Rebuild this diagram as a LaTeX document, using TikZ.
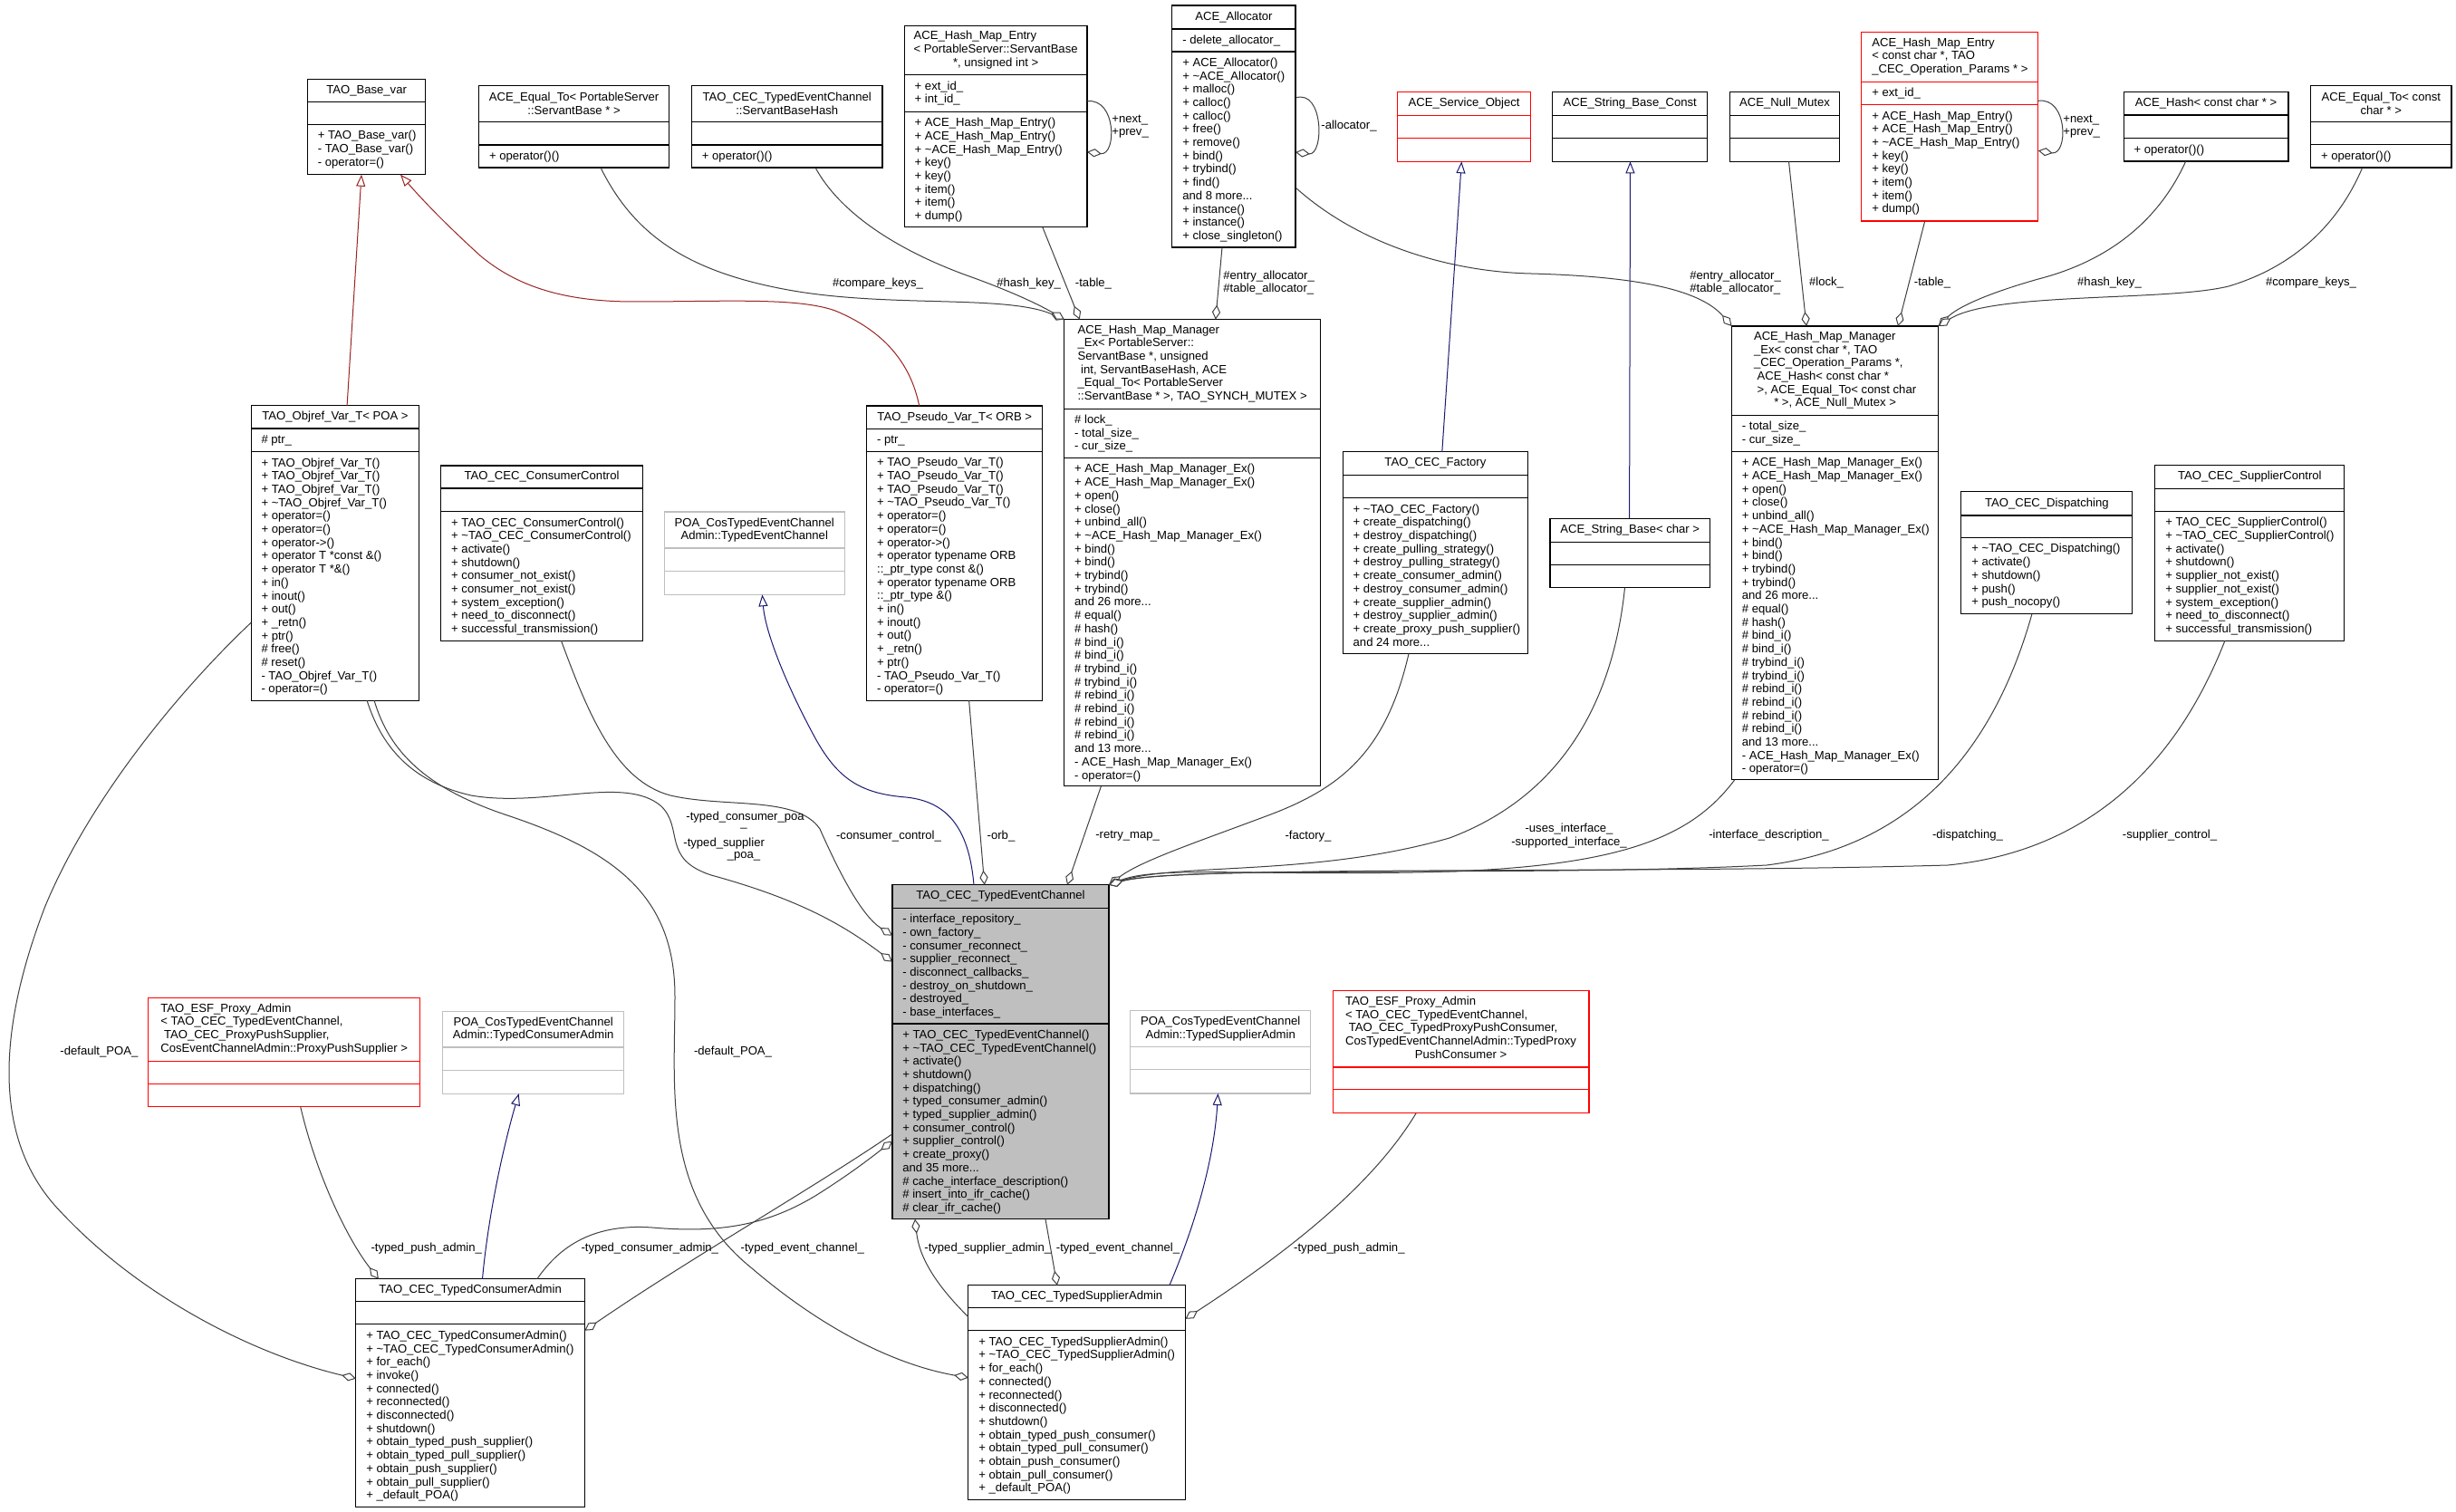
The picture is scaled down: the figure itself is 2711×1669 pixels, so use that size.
\documentclass[tikz,border=0pt]{standalone}
\usepackage{fontspec}
\setmainfont{Liberation Sans}
\usetikzlibrary{arrows.meta,calc}
\definecolor{edgegrey}{HTML}{404040}
\definecolor{inhblue}{HTML}{191970}
\definecolor{inhred}{HTML}{9A2424}
\definecolor{boxgrey}{HTML}{BFBFBF}
\definecolor{mainfill}{HTML}{BFBFBF}
\newcommand\dfont{\fontsize{6.55}{7.35}\selectfont}
\newcommand\ttlL[1]{\begin{tabular}{@{}l@{}}#1\end{tabular}}
\newcommand\lastc[1]{\multicolumn{1}{@{}c@{}}{#1}}
\newcommand\tld{\textasciitilde{}}
\tikzset{
  box/.style={draw=black,fill=white,line width=0.55pt,inner sep=0pt,outer sep=0pt,anchor=north west},
  divider/.style={draw=black,line width=0.55pt},
  redbox/.style={draw=red},
  greybox/.style={draw=boxgrey},
  mainbox/.style={fill=mainfill},
  ttl/.style={font=\dfont,align=center,inner sep=0pt},
  lst/.style={font=\dfont,align=left,inner sep=0pt,anchor=north west},
  lbl/.style={font=\dfont,inner sep=0pt},
  coll/.style={draw=edgegrey,line width=0.5pt,-{Diamond[fill=white,length=8pt,width=4.6pt,line width=0.5pt]}},
  inhb/.style={draw=inhblue,line width=0.5pt,-{Triangle[fill=white,length=6.5pt,width=5pt,line width=0.5pt]}},
  inhr/.style={draw=inhred,line width=0.5pt,-{Triangle[fill=white,length=6.5pt,width=5pt,line width=0.5pt]}},
}
% name, x1, y1, x2, y2, d1, d2, style, title
\newcommand\ubox[9]{%
  \node[box,#8,minimum width={(#4-#2)*0.5pt},minimum height={(#5-#3)*0.5pt}] (#1) at (#2,#3) {};
  \draw[divider,#8] (#2,#6) -- (#4,#6) (#2,#7) -- (#4,#7);
  \node[ttl] (#1-t) at ({(#2+#4)/2},{(#3+#6)/2}) {#9};
}
% name, x1, divider y, text
\newcommand\blist[4]{\node[lst] (#1) at ({#2+11},{#3+5.7}) {\strut#4};}
\begin{document}
\begin{tikzpicture}[x=0.5pt,y=-0.5pt]
\fill[white] (0,0) rectangle (2711,1669);
\useasboundingbox (0,0) rectangle (2711,1669);

% ---------------- boxes ----------------
\ubox{basevar}{339.4}{87.3}{469.9}{192.7}{112.3}{137.3}{}{TAO\_Base\_var}
\blist{basevar-m}{339.4}{137.3}{+ TAO\_Base\_var()\\- TAO\_Base\_var()\\- operator=()}

\ubox{eqPS}{528.6}{94.3}{738.6}{185}{134.7}{160}{}{ACE\_Equal\_To< PortableServer\\::ServantBase * >}
\blist{eqPS-m}{528.6}{160}{+ operator()()}

\ubox{sbh}{763.5}{94.3}{974}{185}{134.7}{160}{}{TAO\_CEC\_TypedEventChannel\\::ServantBaseHash}
\blist{sbh-m}{763.5}{160}{+ operator()()}

\ubox{hmePS}{998.3}{28.7}{1200}{250.7}{82.7}{123.3}{}{\ttlL{ACE\_Hash\_Map\_Entry\\< PortableServer::ServantBase\\\lastc{*, unsigned int >}}}
\blist{hmePS-a}{998.3}{82.7}{+ ext\_id\_\\+ int\_id\_}
\blist{hmePS-m}{998.3}{123.3}{+ ACE\_Hash\_Map\_Entry()\\+ ACE\_Hash\_Map\_Entry()\\+ \tld ACE\_Hash\_Map\_Entry()\\+ key()\\+ key()\\+ item()\\+ item()\\+ dump()}

\ubox{alloc}{1293.9}{6}{1430}{273}{32}{57}{}{ACE\_Allocator}
\blist{alloc-a}{1293.9}{32}{- delete\_allocator\_}
\blist{alloc-m}{1293.9}{57}{+ ACE\_Allocator()\\+ \tld ACE\_Allocator()\\+ malloc()\\+ calloc()\\+ calloc()\\+ free()\\+ remove()\\+ bind()\\+ trybind()\\+ find()\\and 8 more...\\+ instance()\\+ instance()\\+ close\_singleton()}

\ubox{svcobj}{1542.9}{101.7}{1689.3}{178.3}{127.3}{152.7}{redbox}{ACE\_Service\_Object}
\ubox{sbconst}{1713.8}{101.7}{1884.7}{178.3}{127.3}{152.7}{}{ACE\_String\_Base\_Const}
\ubox{nullmx}{1909.2}{101.7}{2030.8}{178.3}{127.3}{152.7}{}{ACE\_Null\_Mutex}

\ubox{hmeCC}{2054.9}{35.3}{2249.9}{244}{90.3}{115.7}{redbox}{\ttlL{ACE\_Hash\_Map\_Entry\\< const char *, TAO\\\_CEC\_Operation\_Params * >}}
\blist{hmeCC-a}{2054.9}{90.3}{+ ext\_id\_}
\blist{hmeCC-m}{2054.9}{115.7}{+ ACE\_Hash\_Map\_Entry()\\+ ACE\_Hash\_Map\_Entry()\\+ \tld ACE\_Hash\_Map\_Entry()\\+ key()\\+ key()\\+ item()\\+ item()\\+ dump()}

\ubox{hashCC}{2344.2}{101.7}{2526}{178}{127}{152.7}{}{ACE\_Hash< const char * >}
\blist{hashCC-m}{2344.2}{152.7}{+ operator()()}

\ubox{eqCC}{2550.6}{94.3}{2706}{185}{134.7}{159.7}{}{ACE\_Equal\_To< const\\char * >}
\blist{eqCC-m}{2550.6}{159.7}{+ operator()()}

\ubox{objref}{277.1}{447.7}{462.9}{773.3}{473}{498.7}{}{TAO\_Objref\_Var\_T< POA >}
\blist{objref-a}{277.1}{473}{\# ptr\_}
\blist{objref-m}{277.1}{498.7}{+ TAO\_Objref\_Var\_T()\\+ TAO\_Objref\_Var\_T()\\+ TAO\_Objref\_Var\_T()\\+ \tld TAO\_Objref\_Var\_T()\\+ operator=()\\+ operator=()\\+ operator->()\\+ operator T *const \&()\\+ operator T *\&()\\+ in()\\+ inout()\\+ out()\\+ \_retn()\\+ ptr()\\\# free()\\\# reset()\\- TAO\_Objref\_Var\_T()\\- operator=()}

\ubox{ccontrol}{486.8}{514}{709.3}{707.3}{539}{564.7}{}{TAO\_CEC\_ConsumerControl}
\blist{ccontrol-m}{486.8}{564.7}{+ TAO\_CEC\_ConsumerControl()\\+ \tld TAO\_CEC\_ConsumerControl()\\+ activate()\\+ shutdown()\\+ consumer\_not\_exist()\\+ consumer\_not\_exist()\\+ system\_exception()\\+ need\_to\_disconnect()\\+ successful\_transmission()}

\ubox{poaTEC}{733.3}{565}{932.2}{656.3}{605}{630.7}{greybox}{POA\_CosTypedEventChannel\\Admin::TypedEventChannel}

\ubox{pseudo}{956.7}{448}{1150.9}{773.2}{473.3}{498.5}{}{TAO\_Pseudo\_Var\_T< ORB >}
\blist{pseudo-a}{956.7}{473.3}{- ptr\_}
\blist{pseudo-m}{956.7}{498.5}{+ TAO\_Pseudo\_Var\_T()\\+ TAO\_Pseudo\_Var\_T()\\+ TAO\_Pseudo\_Var\_T()\\+ \tld TAO\_Pseudo\_Var\_T()\\+ operator=()\\+ operator=()\\+ operator->()\\+ operator typename ORB\\::\_ptr\_type const \&()\\+ operator typename ORB\\::\_ptr\_type \&()\\+ in()\\+ inout()\\+ out()\\+ \_retn()\\+ ptr()\\- TAO\_Pseudo\_Var\_T()\\- operator=()}

\ubox{hmmL}{1174.8}{352.6}{1457.4}{867.9}{451.2}{505.6}{}{\ttlL{ACE\_Hash\_Map\_Manager\\\_Ex< PortableServer::\\ServantBase *, unsigned\\\ int, ServantBaseHash, ACE\\\_Equal\_To< PortableServer\\::ServantBase * >, TAO\_SYNCH\_MUTEX >}}
\blist{hmmL-a}{1174.8}{451.2}{\# lock\_\\- total\_size\_\\- cur\_size\_}
\blist{hmmL-m}{1174.8}{505.6}{+ ACE\_Hash\_Map\_Manager\_Ex()\\+ ACE\_Hash\_Map\_Manager\_Ex()\\+ open()\\+ close()\\+ unbind\_all()\\+ \tld ACE\_Hash\_Map\_Manager\_Ex()\\+ bind()\\+ bind()\\+ trybind()\\+ trybind()\\and 26 more...\\\# equal()\\\# hash()\\\# bind\_i()\\\# bind\_i()\\\# trybind\_i()\\\# trybind\_i()\\\# rebind\_i()\\\# rebind\_i()\\\# rebind\_i()\\\# rebind\_i()\\and 13 more...\\- ACE\_Hash\_Map\_Manager\_Ex()\\- operator=()}

\ubox{factory}{1482.3}{498.9}{1686.5}{721.6}{524.5}{549.8}{}{TAO\_CEC\_Factory}
\blist{factory-m}{1482.3}{549.8}{+ \tld TAO\_CEC\_Factory()\\+ create\_dispatching()\\+ destroy\_dispatching()\\+ create\_pulling\_strategy()\\+ destroy\_pulling\_strategy()\\+ create\_consumer\_admin()\\+ destroy\_consumer\_admin()\\+ create\_supplier\_admin()\\+ destroy\_supplier\_admin()\\+ create\_proxy\_push\_supplier()\\and 24 more...}

\ubox{sbchar}{1711}{572.2}{1887.6}{648.7}{598.2}{623.4}{}{ACE\_String\_Base< char >}

\ubox{hmmR}{1911.5}{360}{2139.7}{860.9}{458.6}{498.5}{}{\ttlL{ACE\_Hash\_Map\_Manager\\\_Ex< const char *, TAO\\\_CEC\_Operation\_Params *,\\\ ACE\_Hash< const char *\\\ >, ACE\_Equal\_To< const char\\\lastc{* >, ACE\_Null\_Mutex >}}}
\blist{hmmR-a}{1911.5}{458.6}{- total\_size\_\\- cur\_size\_}
\blist{hmmR-m}{1911.5}{498.5}{+ ACE\_Hash\_Map\_Manager\_Ex()\\+ ACE\_Hash\_Map\_Manager\_Ex()\\+ open()\\+ close()\\+ unbind\_all()\\+ \tld ACE\_Hash\_Map\_Manager\_Ex()\\+ bind()\\+ bind()\\+ trybind()\\+ trybind()\\and 26 more...\\\# equal()\\\# hash()\\\# bind\_i()\\\# bind\_i()\\\# trybind\_i()\\\# trybind\_i()\\\# rebind\_i()\\\# rebind\_i()\\\# rebind\_i()\\\# rebind\_i()\\and 13 more...\\- ACE\_Hash\_Map\_Manager\_Ex()\\- operator=()}

\ubox{disp}{2164.9}{542.7}{2353.8}{677.8}{569}{593.6}{}{TAO\_CEC\_Dispatching}
\blist{disp-m}{2164.9}{593.6}{+ \tld TAO\_CEC\_Dispatching()\\+ activate()\\+ shutdown()\\+ push()\\+ push\_nocopy()}

\ubox{scontrol}{2378.9}{513.3}{2587.8}{707.2}{539.2}{564.5}{}{TAO\_CEC\_SupplierControl}
\blist{scontrol-m}{2378.9}{564.5}{+ TAO\_CEC\_SupplierControl()\\+ \tld TAO\_CEC\_SupplierControl()\\+ activate()\\+ shutdown()\\+ supplier\_not\_exist()\\+ supplier\_not\_exist()\\+ system\_exception()\\+ need\_to\_disconnect()\\+ successful\_transmission()}

\ubox{tec}{985}{976.7}{1224}{1345.7}{1002.3}{1130}{mainbox}{TAO\_CEC\_TypedEventChannel}
\blist{tec-a}{985}{1002.3}{- interface\_repository\_\\- own\_factory\_\\- consumer\_reconnect\_\\- supplier\_reconnect\_\\- disconnect\_callbacks\_\\- destroy\_on\_shutdown\_\\- destroyed\_\\- base\_interfaces\_}
\blist{tec-m}{985}{1130}{+ TAO\_CEC\_TypedEventChannel()\\+ \tld TAO\_CEC\_TypedEventChannel()\\+ activate()\\+ shutdown()\\+ dispatching()\\+ typed\_consumer\_admin()\\+ typed\_supplier\_admin()\\+ consumer\_control()\\+ supplier\_control()\\+ create\_proxy()\\and 35 more...\\\# cache\_interface\_description()\\\# insert\_into\_ifr\_cache()\\\# clear\_ifr\_cache()}

\ubox{esfL}{163.9}{1101.6}{463.6}{1221.3}{1171.1}{1196.2}{redbox}{\ttlL{TAO\_ESF\_Proxy\_Admin\\< TAO\_CEC\_TypedEventChannel,\\\ TAO\_CEC\_ProxyPushSupplier,\\\lastc{CosEventChannelAdmin::ProxyPushSupplier >}}}

\ubox{poaTCA}{488.5}{1116.2}{688.8}{1207.2}{1156}{1181.6}{greybox}{POA\_CosTypedEventChannel\\Admin::TypedConsumerAdmin}

\ubox{tca}{392.9}{1411.7}{645.4}{1663.3}{1436.8}{1461.9}{}{TAO\_CEC\_TypedConsumerAdmin}
\blist{tca-m}{392.9}{1461.9}{+ TAO\_CEC\_TypedConsumerAdmin()\\+ \tld TAO\_CEC\_TypedConsumerAdmin()\\+ for\_each()\\+ invoke()\\+ connected()\\+ reconnected()\\+ disconnected()\\+ shutdown()\\+ obtain\_typed\_push\_supplier()\\+ obtain\_typed\_pull\_supplier()\\+ obtain\_push\_supplier()\\+ obtain\_pull\_supplier()\\+ \_default\_POA()}

\ubox{poaTSA}{1247.8}{1115.7}{1446.5}{1207}{1155.9}{1180.7}{greybox}{POA\_CosTypedEventChannel\\Admin::TypedSupplierAdmin}

\ubox{esfR}{1471.1}{1093.9}{1754}{1228.8}{1178}{1202.8}{redbox}{\ttlL{TAO\_ESF\_Proxy\_Admin\\< TAO\_CEC\_TypedEventChannel,\\\ TAO\_CEC\_TypedProxyPushConsumer,\\CosTypedEventChannelAdmin::TypedProxy\\\lastc{PushConsumer >}}}

\ubox{tsa}{1068.9}{1418.8}{1308.5}{1655.5}{1443.6}{1468.8}{}{TAO\_CEC\_TypedSupplierAdmin}
\blist{tsa-m}{1068.9}{1468.8}{+ TAO\_CEC\_TypedSupplierAdmin()\\+ \tld TAO\_CEC\_TypedSupplierAdmin()\\+ for\_each()\\+ connected()\\+ reconnected()\\+ disconnected()\\+ shutdown()\\+ obtain\_typed\_push\_consumer()\\+ obtain\_typed\_pull\_consumer()\\+ obtain\_push\_consumer()\\+ obtain\_pull\_consumer()\\+ \_default\_POA()}

% ---------------- inheritance ----------------
\draw[inhr] ($(objref.north west)+(106,0)$) -- ($(basevar.south west)+(59.6,0)$);
\draw[inhr] ($(pseudo.north west)+(58,0)$) .. controls (1005,400) and (975,365) .. (922,343) .. controls (880,328) and (800,333) .. (700,333) .. controls (620,333) and (570,315) .. (531,283) .. controls (500,255) and (470,225) .. ($(basevar.south west)+(102.6,0)$);
\draw[inhb] ($(factory.north west)+(109.5,0)$) -- ($(svcobj.south west)+(70.4,0)$);
\draw[inhb] ($(sbchar.north west)+(87.6,0)$) -- ($(sbconst.south west)+(85.7,0)$);
\draw[inhb] ($(tec.north west)+(90,0)$) .. controls (1070,920) and (1050,885) .. (1000,880) .. controls (950,876) and (925,860) .. (900,815) .. controls (870,760) and (845,700) .. ($(poaTEC.south west)+(108.1,0)$);
\draw[inhb] ($(tca.north west)+(139.6,0)$) .. controls (540,1330) and (560,1250) .. ($(poaTCA.south west)+(84.2,0)$);
\draw[inhb] ($(tsa.north west)+(222,0)$) .. controls (1320,1350) and (1340,1280) .. ($(poaTSA.south west)+(96.7,0)$);

% ---------------- collaboration (top) ----------------
\draw[coll] ($(eqPS.south west)+(134.4,0)$) .. controls (700,260) and (760,300) .. (870,320) .. controls (980,340) and (1110,325) .. (hmmL.north west);
\draw[coll] ($(sbh.south west)+(136.5,0)$) .. controls (930,240) and (1000,280) .. (1070,305) .. controls (1120,323) and (1150,338) .. (hmmL.north west);
\draw[coll] ($(hmePS.south west)+(152.5,0)$) -- ($(hmmL.north west)+(17,0)$);
\draw[coll] ($(alloc.south west)+(55.1,0)$) -- ($(hmmL.north west)+(167,0)$);
\draw[coll] ($(alloc.north east)+(0,201)$) .. controls (1500,270) and (1600,300) .. (1690,302) .. controls (1800,305) and (1875,318) .. (hmmR.north west);
\draw[coll] ($(nullmx.south west)+(65.3,0)$) -- ($(hmmR.north west)+(82.5,0)$);
\draw[coll] ($(hmeCC.south west)+(69.8,0)$) -- ($(hmmR.north west)+(183.5,0)$);
\draw[coll] ($(hashCC.south west)+(68.5,0)$) .. controls (2380,250) and (2320,290) .. (2250,308) .. controls (2190,325) and (2160,340) .. (hmmR.north east);
\draw[coll] ($(eqCC.south west)+(57.1,0)$) .. controls (2580,250) and (2530,295) .. (2460,316) .. controls (2390,333) and (2200,322) .. (hmmR.north east);
\draw[coll] ($(hmePS.north east)+(0,83)$) .. controls (1232.7,108) and (1232.7,172) .. ($(hmePS.north east)+(0,139)$);
\draw[coll] ($(alloc.north east)+(0,102)$) .. controls (1461.5,98) and (1461.5,172) .. ($(alloc.north east)+(0,162)$);
\draw[coll] ($(hmeCC.north east)+(0,76)$) .. controls (2283,107) and (2283,172) .. ($(hmeCC.north east)+(0,131)$);

% ---------------- collaboration (to central) ----------------
\draw[coll] ($(pseudo.south west)+(112.9,0)$) -- ($(tec.north west)+(101.7,0)$);
\draw[coll] ($(hmmL.south west)+(40.6,0)$) -- ($(tec.north west)+(193,0)$);
\draw[coll] ($(ccontrol.south west)+(132.7,0)$) .. controls (650,790) and (680,862) .. (740,878) .. controls (800,892) and (880,878) .. (905,915) .. controls (925,960) and (950,1010) .. ($(tec.north west)+(0,56)$);
\draw[coll] ($(objref.south west)+(128,0)$) .. controls (420,820) and (450,862) .. (520,878) .. controls (600,892) and (690,855) .. (730,890) .. controls (755,915) and (730,948) .. (785,966) .. controls (880,992) and (930,1020) .. ($(tec.north west)+(0,85)$);
\draw[coll] ($(objref.south west)+(136,0)$) .. controls (430,830) and (470,870) .. (560,900) .. controls (680,940) and (745,990) .. (745,1100) .. controls (745,1200) and (730,1320) .. (830,1400) .. controls (900,1460) and (980,1505) .. ($(tsa.north west)+(0,102)$);
\draw[coll] ($(objref.south west)+(0,-86)$) .. controls (200,760) and (100,880) .. (50,1000) .. controls (0,1130) and (-10,1250) .. (60,1330) .. controls (150,1430) and (280,1495) .. ($(tca.north west)+(0,110)$);
\draw[coll] ($(esfL.south west)+(167.7,0)$) .. controls (350,1300) and (385,1370) .. ($(tca.north west)+(25,0)$);
\draw[coll] ($(tca.north west)+(200,0)$) .. controls (615,1380) and (650,1350) .. (720,1355) .. controls (800,1362) and (850,1350) .. (900,1320) .. controls (940,1295) and (965,1275) .. ($(tec.north west)+(0,283)$);
\draw[coll] ($(tec.north west)+(0,275)$) .. controls (900,1310) and (760,1390) .. ($(tca.north east)+(0,57)$);
\draw[coll] ($(tsa.north west)+(0,35)$) .. controls (1035,1420) and (1015,1390) .. ($(tec.south west)+(25,0)$);
\draw[coll] ($(tec.south west)+(169,0)$) -- ($(tsa.north west)+(98,0)$);
\draw[coll] ($(esfR.south west)+(92,0)$) .. controls (1520,1300) and (1440,1370) .. ($(tsa.north east)+(0,37)$);
\draw[coll] ($(factory.south west)+(72.7,0)$) .. controls (1530,830) and (1480,870) .. (1400,900) .. controls (1320,930) and (1260,950) .. (tec.north east);
\draw[coll] ($(sbchar.south west)+(82.5,0)$) .. controls (1780,780) and (1720,880) .. (1600,925) .. controls (1450,968) and (1300,952) .. (tec.north east);
\draw[coll] ($(hmmR.south west)+(3.2,0)$) .. controls (1870,920) and (1800,955) .. (1600,962) .. controls (1400,968) and (1280,955) .. (tec.north east);
\draw[coll] ($(disp.south west)+(78,0)$) .. controls (2200,830) and (2110,935) .. (1950,955) .. controls (1700,968) and (1300,955) .. (tec.north east);
\draw[coll] ($(scontrol.south west)+(77,0)$) .. controls (2400,850) and (2300,940) .. (2150,955) .. controls (1800,965) and (1300,955) .. (tec.north east);

% ---------------- labels ----------------
\node[lbl] (L1) at (969,313) {\#compare\_keys\_};
\node[lbl] (L2) at (1135.7,313) {\#hash\_key\_};
\node[lbl] (L3) at (1207,313) {-table\_};
\node[lbl,align=left,anchor=west] (L4) at (1350,312) {\#entry\_allocator\_\\\#table\_allocator\_};
\node[lbl,anchor=west] (L5) at (1458,139) {-allocator\_};
\node[lbl,align=left,anchor=west] (L6) at (1227,139.5) {+next\_\\+prev\_};
\node[lbl,align=left,anchor=west] (L7) at (2277,139.5) {+next\_\\+prev\_};
\node[lbl,align=left,anchor=west] (L8) at (1865,312) {\#entry\_allocator\_\\\#table\_allocator\_};
\node[lbl] (L9) at (2016,312) {\#lock\_};
\node[lbl] (L10) at (2133,312) {-table\_};
\node[lbl] (L11) at (2328.5,312) {\#hash\_key\_};
\node[lbl] (L12) at (2551,312) {\#compare\_keys\_};
\node[lbl,anchor=west] (L13a) at (757,901.7) {-typed\_consumer\_poa};
\node[lbl] (L13b) at (821,914) {\_};
\node[lbl,anchor=west] (L13c) at (754,931) {-typed\_supplier};
\node[lbl] (L13d) at (821,945.8) {\_poa\_};
\node[lbl] (L14) at (981,922.7) {-consumer\_control\_};
\node[lbl] (L15) at (1105,922.7) {-orb\_};
\node[lbl] (L16) at (1244.6,922.7) {-retry\_map\_};
\node[lbl] (L17) at (1444,922.7) {-factory\_};
\node[lbl,align=center] (L18) at (1732,922.5) {-uses\_interface\_\\-supported\_interface\_};
\node[lbl] (L19) at (1952.5,922) {-interface\_description\_};
\node[lbl] (L20) at (2172,922) {-dispatching\_};
\node[lbl] (L21) at (2395,922) {-supplier\_control\_};
\node[lbl] (L22) at (109.4,1161) {-default\_POA\_};
\node[lbl] (L23) at (809,1161) {-default\_POA\_};
\node[lbl] (L24) at (470.8,1378) {-typed\_push\_admin\_};
\node[lbl] (L25) at (717.3,1378) {-typed\_consumer\_admin\_};
\node[lbl] (L26) at (885.8,1378) {-typed\_event\_channel\_};
\node[lbl] (L27) at (1090.3,1378) {-typed\_supplier\_admin\_};
\node[lbl] (L28) at (1234,1378) {-typed\_event\_channel\_};
\node[lbl] (L29) at (1489.4,1378) {-typed\_push\_admin\_};
\end{tikzpicture}
\end{document}
